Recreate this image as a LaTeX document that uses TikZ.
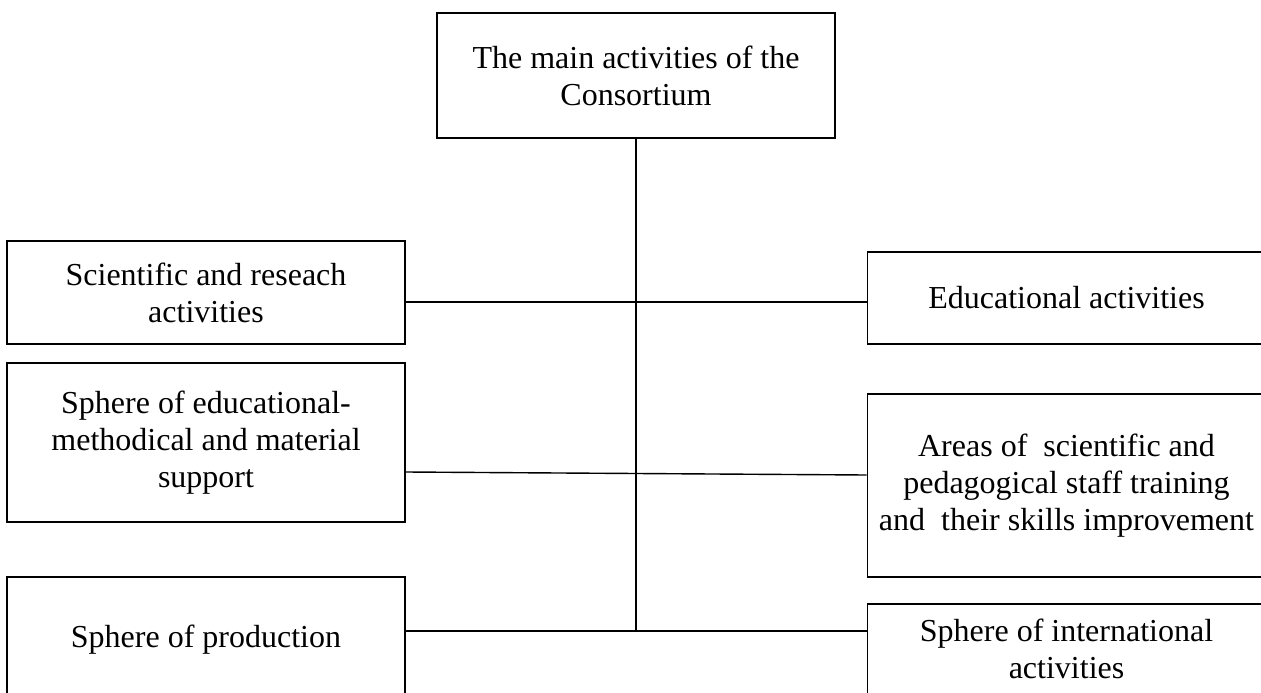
\documentclass[tikz,border=0pt]{standalone}
\usepackage{fontspec}
\setmainfont{Liberation Serif}
\usepackage{tikz}

\begin{document}
\begin{tikzpicture}[x=1pt, y=-1pt,
    actbox/.style={draw, line width=1.8pt, align=center, inner sep=0pt,
      minimum width=398pt, font=\fontsize{32}{37}\selectfont},
    link/.style={line width=1.4pt}]
      \clip (0,0) rectangle (1261,693);
      \node[actbox, minimum height=125pt] (main) at (636,75.5) {The main activities of the\\Consortium};
      \node[actbox, minimum height=103pt] (sci) at (206,292.5) {Scientific and reseach\\activities};
      \node[actbox, minimum height=159pt] (sup) at (206,442.5) {Sphere of educational-\\methodical and material\\support};
      \node[actbox, minimum height=126pt] (prod) at (206,640) {Sphere of production};
      \node[actbox, minimum height=92pt] (edu) at (1066.5,298) {Educational activities};
      \node[actbox, minimum height=183pt] (staff) at (1066.5,485.5) {Areas of~ scientific and\\pedagogical staff training\\and~ their skills improvement};
      \node[actbox, minimum height=90pt] (intl) at (1066.5,649) {Sphere of international\\activities};
      \coordinate (j1) at (636,302);
      \coordinate (j3) at (636,631);
      \draw[link] (main) -- (j3);
      \draw[link] (sci.east |- j1) -- (edu.west |- j1);
      \draw[link] ([yshift=-29.5pt]sup.east) -- ([yshift=10.5pt]staff.west);
      \draw[link] (prod.east |- j3) -- (intl.west |- j3);
    \end{tikzpicture}
\end{document}
